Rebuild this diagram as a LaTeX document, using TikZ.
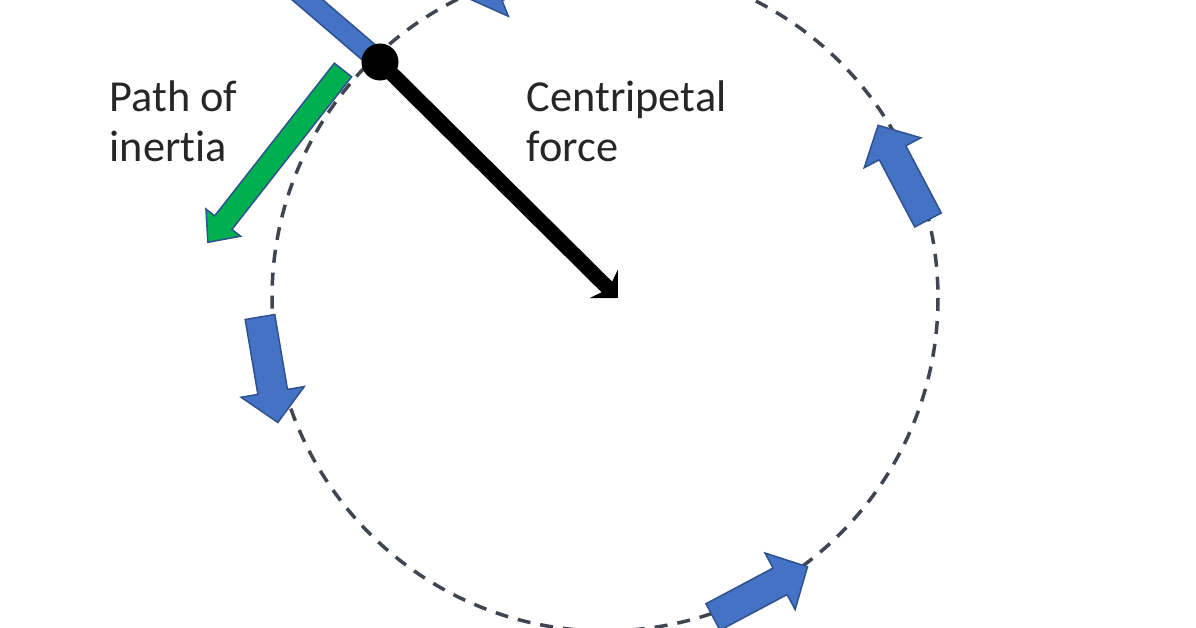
\documentclass[tikz,border=0pt]{standalone}
\usepackage{fontspec}
\setmainfont{Carlito}[Ligatures=NoCommon]
\usepackage{tikz}
\usetikzlibrary{arrows.meta, positioning}

\definecolor{arrowblue}{HTML}{4472C4}
\definecolor{edgeblue}{HTML}{2F528F}
\definecolor{inertiagreen}{HTML}{00B050}
\definecolor{pathgray}{HTML}{404552}
\definecolor{textgray}{HTML}{262626}

% block arrow: style, tail, angle, length, half shaft, half head, head length
\newcommand{\blockarrow}[7]{%
  \begin{scope}[shift={#2}, rotate=#3]
    \filldraw[#1] (0,-#5) -- ({#4-#7},-#5) -- ({#4-#7},-#6) -- (#4,0)
      -- ({#4-#7},#6) -- ({#4-#7},#5) -- (0,#5) -- cycle;
  \end{scope}}

\begin{document}
\begin{tikzpicture}[x=0.01cm, y=-0.01cm,
    motion/.style={fill=arrowblue, draw=edgeblue, line width=0.015cm, line join=miter},
    inertia/.style={fill=inertiagreen, draw=edgeblue, line width=0.015cm, line join=miter},
    orbit/.style={draw=pathgray, line width=0.035cm, dash pattern=on 0.13cm off 0.1cm},
    rod/.style={draw=black, line width=0.15cm, -{Stealth[length=0.2cm, width=0.4cm, inset=0.07cm]}},
    note/.style={text=textgray, font=\fontsize{12.6}{14.2}\selectfont, align=left, inner sep=0pt}]
  \useasboundingbox (0,0) rectangle (1196,628);
  \fill[white] (0,0) rectangle (1196,628);
  \clip (0,0) rectangle (1196,628);

  % circular path
  \coordinate (centre) at (605,298);
  \draw[orbit] (centre) circle[radius=333];

  % inertia arrow and outward bar
  \blockarrow{inertia}{(343,70)}{231.9}{219}{11}{22}{25}
  \begin{scope}[shift={(380,62)}, rotate=139.4]
    \filldraw[motion] (0,-10) rectangle (260,10);
  \end{scope}

  % string and ball
  \coordinate (hub) at (380,62);
  \coordinate (pull) at (618,298);
  \draw[rod] (hub) -- (pull);
  \node[circle, fill=black, minimum size=0.37cm, inner sep=0pt] (ball) at (hub) {};

  % direction of motion
  \blockarrow{motion}{(928,220)}{117.8}{107}{15}{32}{31}
  \blockarrow{motion}{(260,317)}{-80.4}{107}{15}{32}{31}
  \blockarrow{motion}{(713,617)}{28}{107}{15}{32}{31}
  \blockarrow{motion}{(568,-42)}{201.8}{108}{15}{32}{31}

  \node[note, anchor=north west] (inertiatext) at (109,80) {Path of\\inertia};
  \node[note, anchor=north west] (forcetext) at (526,80) {Centripetal\\force};
\end{tikzpicture}
\end{document}
